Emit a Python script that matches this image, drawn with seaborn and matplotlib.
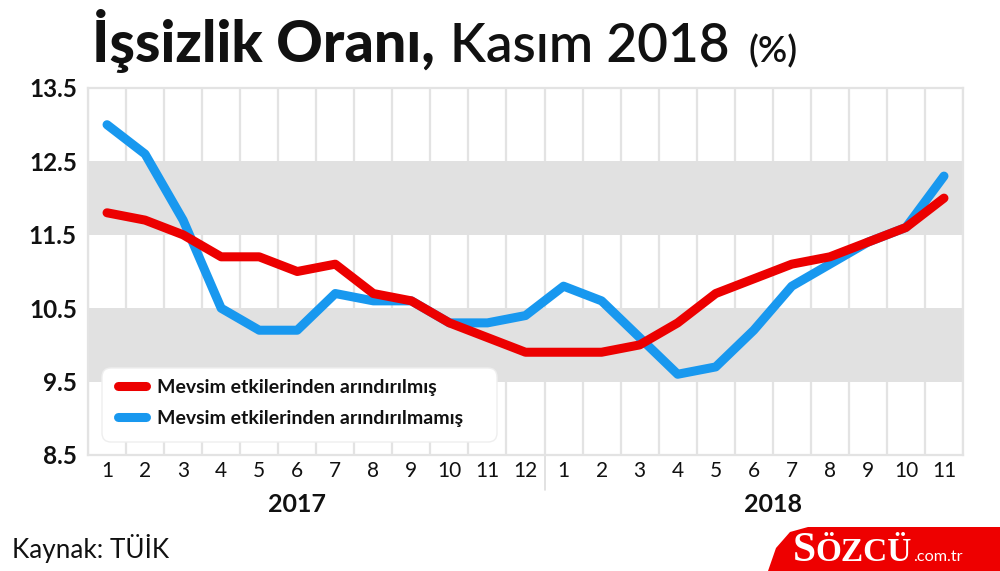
import numpy as np
import pandas as pd
import matplotlib
matplotlib.use("Agg")
import matplotlib.pyplot as plt
import seaborn as sns
from matplotlib import font_manager as fm
from matplotlib.lines import Line2D
from matplotlib.patches import Polygon, FancyBboxPatch
from matplotlib.font_manager import FontProperties

# ---------------- data ----------------
months_2017 = [str(i) for i in range(1, 13)]
months_2018 = [str(i) for i in range(1, 12)]
tick_labels = months_2017 + months_2018
adjusted = [11.8, 11.7, 11.5, 11.2, 11.2, 11.0, 11.1, 10.7, 10.6, 10.3, 10.1, 9.9,
            9.9, 9.9, 10.0, 10.3, 10.7, 10.9, 11.1, 11.2, 11.4, 11.6, 12.0]
unadjusted = [13.0, 12.6, 11.7, 10.5, 10.2, 10.2, 10.7, 10.6, 10.6, 10.3, 10.3, 10.4,
              10.8, 10.6, 10.1, 9.6, 9.7, 10.2, 10.8, 11.1, 11.4, 11.6, 12.3]
series_names = ["Mevsim etkilerinden arındırılmış", "Mevsim etkilerinden arındırılmamış"]
years = ["2017", "2018"]
year_label_pos = [5.0, 17.5]
y_ticks = [8.5, 9.5, 10.5, 11.5, 12.5, 13.5]
title_bold = "İşsizlik Oranı,"
title_regular = "Kasım 2018"
title_unit = "(%)"
source_text = "Kaynak: TÜİK"

RED = "#ec0000"
BLUE = "#1898ef"
BAND = "#e1e1e1"
GRID = "#e3e3e3"
INK = "#111111"

sns.set_theme(style="white")

# ---------------- fonts ----------------
def lato(weight):
    try:
        p = fm.findfont(FontProperties(family="Lato", weight=weight), fallback_to_default=False)
        return FontProperties(fname=p)
    except Exception:
        return FontProperties(family="DejaVu Sans", weight="bold" if weight >= 600 else "normal")

F_BLACK = lato(900)
F_BOLD = lato(700)
F_SEMI = lato(600)
F_REG = lato(400)

# ---------------- figure ----------------
W, H = 1000, 571
fig = plt.figure(figsize=(W / 100, H / 100), dpi=100)
fig.patch.set_facecolor("white")
ax_left, ax_right, ax_top, ax_bot = 88, 963, 88, 455
ax = fig.add_axes([ax_left / W, 1 - ax_bot / H, (ax_right - ax_left) / W, (ax_bot - ax_top) / H])

n = len(tick_labels)
df = pd.DataFrame({"idx": list(range(n)) * 2,
                   "value": unadjusted + adjusted,
                   "series": [series_names[1]] * n + [series_names[0]] * n})

for b in np.arange(-0.5, n, 1.0):
    ax.axvline(b, color=GRID, lw=1.6, zorder=0.5)
for lo in (9.5, 11.5):
    ax.axhspan(lo, lo + 1, color=BAND, lw=0, zorder=1)

sns.lineplot(data=df, x="idx", y="value", hue="series",
             hue_order=[series_names[1], series_names[0]],
             palette=[BLUE, RED], lw=6.5, ax=ax, legend=False, sort=False)
for ln in ax.get_lines():
    if ln.get_linewidth() > 5:
        ln.set_solid_capstyle("round")
        ln.set_solid_joinstyle("round")
        ln.set_zorder(3)

ax.set_xlim(-0.5, n - 0.5)
ax.set_ylim(8.5, 13.5)
ax.set_xticks(range(n))
ax.set_xticklabels(tick_labels, fontproperties=F_REG, fontsize=15, color=INK)
ax.set_yticks(y_ticks)
ax.set_yticklabels([f"{v:.1f}" for v in y_ticks], fontproperties=F_BOLD, fontsize=17.5, color=INK)
ax.tick_params(axis="x", length=0, pad=4)
ax.tick_params(axis="y", length=0, pad=8)
ax.set_xlabel("")
ax.set_ylabel("")
for s in ax.spines.values():
    s.set_color(GRID)
    s.set_linewidth(1.6)
ax.grid(False)

# year separator and labels
ax_h = ax_bot - ax_top
ax.plot([11.5, 11.5], [0, -35 / ax_h], transform=ax.get_xaxis_transform(),
        color="#dddddd", lw=1.2, clip_on=False)
for pos, yr in zip(year_label_pos, years):
    ax.text(pos, -49 / ax_h, yr, transform=ax.get_xaxis_transform(),
            ha="center", va="center", fontproperties=F_BOLD, fontsize=18, color=INK)

renderer = fig.canvas.get_renderer()

def px(x, y):
    return (x / W, 1 - y / H)

def fitted_text(x_px, base_px, s, fp, target_w, lo, hi, color=INK, **kw):
    t = fig.text(*px(x_px, base_px), s, fontproperties=fp, fontsize=10,
                 va="baseline", ha="left", color=color, **kw)
    w = t.get_window_extent(renderer).width
    t.set_fontsize(max(lo, min(hi, 10 * target_w / w)))
    return t

# ---------------- legend (manual box in figure pixels) ----------------
box = FancyBboxPatch(px(108, 436), (491 - 108) / W, (436 - 374) / H,
                     boxstyle="round,pad=0.006,rounding_size=0.009",
                     transform=fig.transFigure, facecolor="white",
                     edgecolor="#eeeeee", lw=1.0, zorder=10,
                     mutation_aspect=W / H)
fig.patches.append(box)
leg_texts = []
for yy, col, lab in [(386, RED, series_names[0]), (417, BLUE, series_names[1])]:
    fig.lines.append(Line2D([117.5 / W, 145.5 / W], [1 - yy / H, 1 - yy / H],
                            transform=fig.transFigure, color=col, lw=6.5,
                            solid_capstyle="round", zorder=11))
    leg_texts.append(fig.text(157 / W, 1 - yy / H, lab, fontproperties=F_BOLD, fontsize=13,
                              va="center_baseline", ha="left", color=INK, zorder=12))
w = leg_texts[-1].get_window_extent(renderer).width
sz = max(11, min(14, 13 * 335 / w))
for t in leg_texts:
    t.set_fontsize(sz)

# ---------------- title ----------------
fitted_text(92, 62, title_bold, F_BLACK, 345, 32, 42)
fitted_text(450, 62, title_regular, F_SEMI, 280, 32, 40)
fitted_text(748, 62, title_unit, F_SEMI, 59, 18, 26)

# source
fitted_text(12, 558, source_text, F_REG, 156, 16, 21)

# ---------------- logo ----------------
poly = Polygon([px(768, 571), px(776, 548), px(790, 532), px(808, 527),
                px(1000, 527), px(1000, 571)], closed=True, transform=fig.transFigure,
               facecolor="#ee0000", edgecolor="none")
fig.patches.append(poly)
serif = FontProperties(family=["Liberation Serif", "DejaVu Serif"], weight="bold")
fig.text(*px(793, 561), "S", fontproperties=serif, fontsize=30, color="white",
         va="baseline", ha="left")
t2 = fitted_text(815, 561, "ÖZCÜ", serif, 104, 18, 24, color="white")
x_end = t2.get_window_extent(renderer).x1
fitted_text(x_end + 2, 561, ".com.tr", F_REG, 50, 10, 14, color="white")

fig.savefig("out.png", dpi=100, facecolor="white")
